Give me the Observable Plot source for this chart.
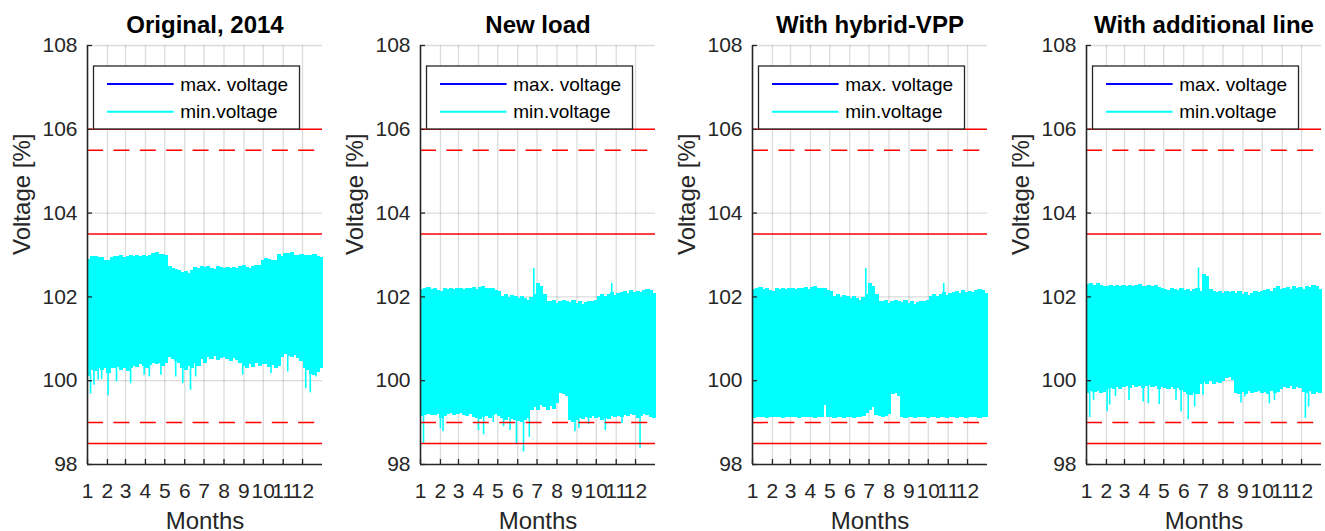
<!DOCTYPE html>
<html>
<head>
<meta charset="utf-8">
<script src="https://cdn.jsdelivr.net/npm/d3@7"></script>
<script src="https://cdn.jsdelivr.net/npm/@observablehq/plot@0.6"></script>
<style>
  body { margin: 0; background: #fff; }
  #chart { position: relative; width: 1325px; height: 531px; overflow: hidden; background: #fff; }
  #chart svg { position: absolute; top: 0; }
</style>
</head>
<body>
<div id="chart"></div>
<script>
// ---- Axis definitions -------------------------------------------------------
const panelTitles = ["Original, 2014", "New load", "With hybrid-VPP", "With additional line"];
const monthStarts = [0, 31, 59, 90, 120, 151, 181, 212, 243, 273, 304, 334]; // day of year
const monthLabels = ["1", "2", "3", "4", "5", "6", "7", "8", "9", "10", "11", "12"];
const voltageTicks = [98, 100, 102, 104, 106, 108];
const solidLimits = [98.5, 103.5, 106];
const dashedLimits = [99, 105.5];
const legendLabels = ["max. voltage", "min.voltage"];
const legendColors = ["#0000ff", "#00ffff"];
const binDays = 5; // each envelope value covers five days of hourly data

// ---- Minimum-voltage envelopes (upper / lower per 5-day bin, in %) ----------
const hiOriginal = [102.90,102.96,102.97,102.95,102.93,102.88,
  102.86,102.95,102.97,102.96,102.98,102.95,
  102.97,102.99,102.96,102.98,102.97,103.00,
  102.96,103.00,103.03,103.05,103.02,103.01,102.98,
  102.72,102.68,102.66,102.62,102.58,102.60,102.57,102.62,102.70,
  102.68,102.72,102.70,102.72,102.68,102.66,102.72,102.70,102.68,102.71,102.67,102.70,102.68,102.72,102.74,102.70,102.68,102.72,102.74,102.74,102.88,
  102.92,102.90,102.88,102.86,103.02,
  102.96,103.04,103.03,103.06,103.00,102.99,103.01,102.98,103.00,102.98,103.02,102.97,102.93];
const loOriginal = [100.10,100.25,100.22,100.28,100.24,100.30,
  100.18,100.30,100.28,100.32,100.25,100.30,
  100.22,100.30,100.35,100.32,100.38,100.34,
  100.30,100.36,100.42,100.38,100.40,100.35,100.42,
  100.55,100.50,100.45,100.40,100.30,100.25,100.35,
  100.30,100.40,100.35,100.50,100.42,
  100.55,100.50,100.58,100.48,100.52,100.55,100.50,100.45,100.52,100.48,100.40,
  100.35,100.30,100.38,100.32,100.40,100.35,100.38,
  100.38,100.32,100.36,100.30,100.35,100.55,
  100.62,100.58,100.55,100.60,100.52,100.45,
  100.30,100.25,100.15,100.12,100.20,100.28];
const dipsOriginal = [[4.7,99.68],[10,99.89],[16.6,100.01],[22,100.03],[32,99.64],[45,99.97],[67,99.93],
  [88,100.13],[96,100.09],[114,100.13],[137,100.09],[148,99.93],[160,99.77],[168,100.09],
  [241,100.13],[285,100.17],[311,100.21],[339,99.81],[346,99.71],[355,100.09]];
const peaksOriginal = [];

const hiNewLoad = [102.18,102.20,102.22,102.18,102.20,102.16,
  102.14,102.20,102.18,102.21,102.17,102.19,
  102.20,102.17,102.21,102.19,102.22,102.18,
  102.22,102.24,102.20,102.21,102.19,102.16,102.12,
  102.02,102.05,101.98,102.03,102.00,101.96,
  102.00,101.95,101.92,101.98,102.05,
  102.32,102.26,102.05,
  101.90,101.88,101.92,101.85,101.90,101.92,101.88,101.86,101.92,101.85,101.88,101.82,101.86,101.90,101.88,101.92,
  102.02,102.05,102.02,102.06,102.10,102.04,102.08,
  102.10,102.12,102.08,102.15,102.10,102.12,102.10,102.16,102.18,102.15,102.08];
const loNewLoad = [99.15,99.18,99.20,99.16,99.18,99.20,
  99.10,99.15,99.20,99.22,99.18,99.20,
  99.22,99.18,99.15,99.20,99.12,99.10,
  99.08,99.12,99.15,99.10,99.18,99.20,99.15,
  99.10,99.05,99.12,99.08,99.05,99.02,
  99.00,99.05,99.10,99.30,99.35,
  99.30,99.40,99.35,99.30,99.38,99.32,99.45,
  99.70,99.68,99.62,
  99.05,99.00,99.05,99.10,99.08,99.12,99.10,
  99.15,99.10,99.12,99.05,99.10,99.08,99.15,99.12,
  99.15,99.12,99.18,99.15,99.20,99.18,99.10,99.15,99.20,99.18,99.12,99.10];
const dipsNewLoad = [[4.7,98.49],[31,98.85],[35,98.78],[90,98.81],[98,98.71],[113,99.0],[129,98.9],
  [139,98.81],[149,98.47],[160,98.3],[169,98.65],[240,98.78],[246,98.86],[261,98.95],
  [287,98.81],[313,98.98],[341,98.39]];
const peaksNewLoad = [[176,102.68],[297,102.32]];

const hiHybridVPP = [102.18,102.20,102.22,102.18,102.20,102.16,
  102.14,102.20,102.18,102.21,102.17,102.19,
  102.20,102.17,102.21,102.19,102.22,102.18,
  102.22,102.24,102.20,102.21,102.19,102.16,102.12,
  102.02,102.05,101.98,102.03,102.00,101.96,
  102.00,101.95,101.92,101.98,102.05,
  102.32,102.26,102.05,
  101.90,101.88,101.92,101.85,101.90,101.92,101.88,101.86,101.92,101.85,101.88,101.82,101.86,101.90,101.88,101.92,
  102.02,102.05,102.02,102.06,102.10,102.04,102.08,
  102.10,102.12,102.08,102.15,102.10,102.12,102.10,102.16,102.18,102.15,102.08];
const loHybridVPP = [99.10,99.12,99.11,99.13,99.10,99.12,
  99.11,99.13,99.12,99.10,99.12,99.11,
  99.13,99.12,99.10,99.12,99.11,99.13,
  99.12,99.10,99.12,99.11,99.40,99.12,99.11,
  99.10,99.12,99.11,99.10,99.13,99.11,
  99.10,99.12,99.11,99.15,99.22,
  99.28,99.35,99.18,99.14,99.12,99.15,99.20,
  99.68,99.70,99.62,
  99.11,99.10,99.12,99.11,99.10,99.12,99.11,
  99.12,99.10,99.11,99.12,99.10,99.11,99.12,99.10,
  99.11,99.12,99.10,99.11,99.12,99.10,99.11,99.13,99.12,99.10,99.11,99.12];
const dipsHybridVPP = [];
const peaksHybridVPP = [[176,102.68],[297,102.32]];

const hiAdditionalLine = [102.30,102.33,102.28,102.31,102.27,102.24,
  102.26,102.28,102.24,102.27,102.25,102.28,
  102.24,102.27,102.25,102.28,102.30,102.26,
  102.25,102.28,102.24,102.27,102.23,102.20,102.18,
  102.16,102.20,102.18,102.15,102.19,102.16,
  102.18,102.14,102.17,102.20,102.12,
  102.54,102.48,102.18,
  102.12,102.10,102.14,102.08,102.12,102.10,102.14,102.09,102.12,102.06,102.10,102.04,102.08,102.12,102.10,102.14,
  102.16,102.18,102.14,102.20,102.24,102.18,102.20,
  102.22,102.18,102.24,102.20,102.22,102.18,102.26,102.22,102.28,102.24,102.18];
const loAdditionalLine = [99.70,99.74,99.72,99.75,99.70,99.73,
  99.78,99.82,99.80,99.84,99.80,99.83,
  99.85,99.82,99.88,99.84,99.86,99.82,
  99.85,99.88,99.84,99.86,99.80,99.84,99.82,
  99.80,99.84,99.78,99.82,99.76,99.72,
  99.68,99.65,99.70,99.66,99.90,
  99.95,99.90,99.98,99.92,99.96,99.94,99.98,
  100.05,100.08,100.00,
  99.70,99.66,99.72,99.68,99.74,99.70,99.72,
  99.74,99.70,99.72,99.68,99.74,99.70,99.72,99.80,
  99.84,99.82,99.86,99.80,99.84,99.82,99.72,99.70,99.74,99.68,99.72,99.70];
const dipsAdditionalLine = [[5,99.12],[11,99.53],[32,99.26],[36,99.42],[45,99.62],[66,99.53],[88,99.49],
  [96,99.45],[113,99.43],[139,99.53],[147,99.26],[158,99.07],[168,99.37],[181,99.65],
  [240,99.47],[246,99.61],[284,99.45],[292,99.53],[340,99.1],[345,99.37]];
const peaksAdditionalLine = [[174,102.69]];

// ---- Layout -----------------------------------------------------------------
const panels = [
  {title: panelTitles[0], hi: hiOriginal, lo: loOriginal, dips: dipsOriginal, peaks: peaksOriginal, left: 0},
  {title: panelTitles[1], hi: hiNewLoad, lo: loNewLoad, dips: dipsNewLoad, peaks: peaksNewLoad, left: 333},
  {title: panelTitles[2], hi: hiHybridVPP, lo: loHybridVPP, dips: dipsHybridVPP, peaks: peaksHybridVPP, left: 665},
  {title: panelTitles[3], hi: hiAdditionalLine, lo: loAdditionalLine, dips: dipsAdditionalLine, peaks: peaksAdditionalLine, left: 999}
];

const W = 332, H = 531, mL = 87, mR = 10, mT = 45, mB = 67;
const frameW = W - mL - mR;
const frameH = H - mT - mB;
const ink = "#262626";
const font = "'Liberation Sans', Arial, Helvetica, sans-serif";

function drawPanel(p) {
  const nBins = p.hi.length;
  const binOf = (day) => Math.min(nBins - 1, Math.floor(day / binDays));
  const bins = p.hi.map((h, i) => ({day: i * binDays + binDays / 2, hi: h, lo: p.lo[i]}));
  const dips = p.dips.map(([day, v]) => ({day, v, edge: p.lo[binOf(day)] + 0.05}));
  const peaks = p.peaks.map(([day, v]) => ({day, v, edge: p.hi[binOf(day)] - 0.05}));

  const svg = Plot.plot({
    width: W, height: H,
    marginLeft: mL, marginRight: mR, marginTop: mT, marginBottom: mB,
    x: {domain: [0, 365], axis: null},
    y: {domain: [98, 108], axis: null},
    style: {fontFamily: font, background: "transparent", overflow: "visible"},
    marks: [
      // grid
      Plot.ruleX(monthStarts.slice(1), {stroke: ink, strokeOpacity: 0.16, strokeWidth: 1.3}),
      Plot.ruleY(voltageTicks.slice(1), {stroke: ink, strokeOpacity: 0.16, strokeWidth: 1.3}),
      // minimum voltage band
      Plot.ruleX(bins, {x: "day", y1: "lo", y2: "hi", stroke: "#00ffff", strokeWidth: 4.2, shapeRendering: "crispEdges"}),
      Plot.ruleX(dips, {x: "day", y1: "v", y2: "edge", stroke: "#00ffff", strokeWidth: 1.6}),
      Plot.ruleX(peaks, {x: "day", y1: "edge", y2: "v", stroke: "#00ffff", strokeWidth: 1.6}),
      // voltage limits
      Plot.ruleY(solidLimits, {stroke: "#ff0000", strokeWidth: 1.5}),
      Plot.ruleY(dashedLimits, {stroke: "#ff0000", strokeWidth: 1.5, strokeDasharray: "16,10.4"}),
      // axes
      Plot.ruleX([0], {stroke: ink, strokeWidth: 1.6}),
      Plot.ruleY([98], {stroke: ink, strokeWidth: 1.6}),
      Plot.ruleX(monthStarts, {stroke: ink, strokeWidth: 1.3, insetTop: frameH - 5}),
      Plot.ruleY(voltageTicks, {stroke: ink, strokeWidth: 1.3, insetRight: frameW - 5}),
      Plot.text(monthStarts, {x: (d) => d, text: (d, i) => monthLabels[i], frameAnchor: "bottom", lineAnchor: "middle", dy: 27, fontSize: 21, fill: ink}),
      Plot.text(voltageTicks, {y: (d) => d, text: (d) => String(d), frameAnchor: "left", lineAnchor: "middle", dx: -10, textAnchor: "end", fontSize: 21, fill: ink}),
      Plot.text(["Months"], {frameAnchor: "bottom", lineAnchor: "middle", dy: 57, fontSize: 24, fill: ink}),
      Plot.text(["Voltage [%]"], {frameAnchor: "left", lineAnchor: "middle", dx: -65, rotate: -90, fontSize: 24, fill: ink}),
      Plot.text([p.title], {frameAnchor: "top", lineAnchor: "middle", dy: -20, fontSize: 24, fontWeight: "bold", fill: "#000"})
    ]
  });

  // legend box
  const g = d3.select(svg).append("g");
  g.append("rect")
    .attr("x", mL + 6.5).attr("y", 66).attr("width", 206).attr("height", 63)
    .attr("fill", "#fff").attr("stroke", ink).attr("stroke-width", 1.3);
  legendLabels.forEach((label, i) => {
    const y = 84 + i * 27.7;
    g.append("line")
      .attr("x1", mL + 20).attr("x2", mL + 86.6).attr("y1", y).attr("y2", y)
      .attr("stroke", legendColors[i]).attr("stroke-width", 2);
    g.append("text")
      .attr("x", mL + 93.3).attr("y", y).attr("dy", "0.35em")
      .attr("text-anchor", "start")
      .attr("font-family", font).attr("font-size", 19).attr("fill", "#000")
      .text(label);
  });

  svg.style.left = p.left + "px";
  return svg;
}

const chart = document.getElementById("chart");
panels.forEach((p) => chart.appendChild(drawPanel(p)));
</script>
</body>
</html>
